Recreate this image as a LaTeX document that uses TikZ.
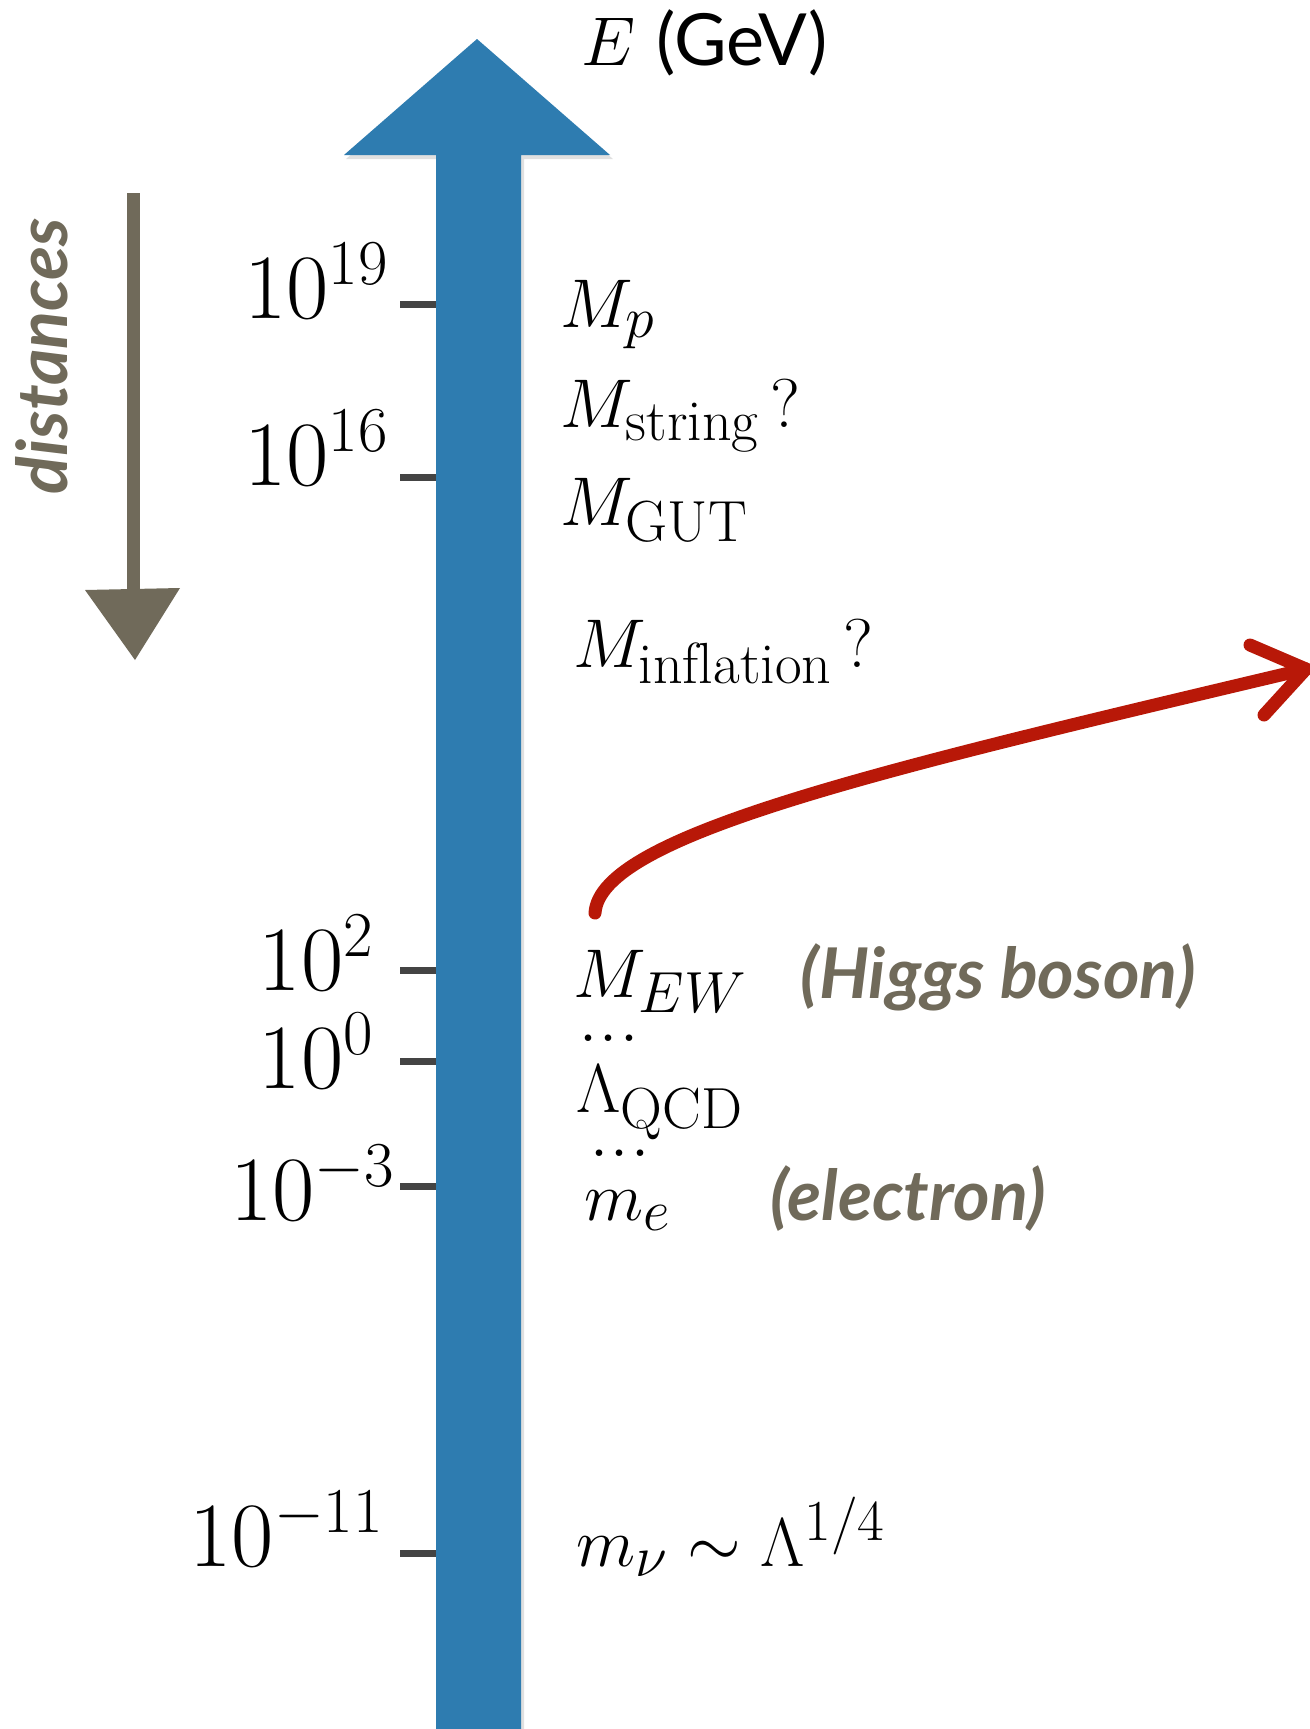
\RequirePackage{fix-cm}
\documentclass[tikz,border=0pt]{standalone}
\usepackage{fontspec}
\newfontfamily\handfont{Lato}
\newfontfamily\unitfont{Lato}
\DeclareMathSizes{34.5}{34.5}{29}{22}
\DeclareMathSizes{46}{46}{32}{24}
\definecolor{shaftblue}{RGB}{46,124,176}
\definecolor{chalkgray}{RGB}{112,106,90}
\definecolor{chalkred}{RGB}{184,24,8}
\definecolor{tickgray}{RGB}{68,68,68}
\begin{document}
\begin{tikzpicture}[x=0.5pt,y=-0.5pt,
  ticklab/.style={anchor=base east,inner sep=0pt,font=\fontsize{46}{52}\selectfont},
  scalelab/.style={anchor=base west,inner sep=0pt,font=\fontsize{34.5}{40}\selectfont},
  dotlab/.style={anchor=base west,inner sep=0pt,font=\fontsize{40}{46}\selectfont},
  handlab/.style={anchor=base west,inner sep=0pt,text=chalkgray,font=\fontsize{35}{40}\selectfont\handfont\bfseries\itshape},
  tickmark/.style={draw=tickgray,line width=3.5pt}]
\useasboundingbox (0,0) rectangle (1310,1729);
\fill[white] (0,0) rectangle (1310,1729);
% shadow of the blue arrow
\fill[black,opacity=0.12] (439,1729) -- (439,159) -- (346,159) -- (479,43) -- (613,159) -- (524,159) -- (524,1729) -- cycle;
% blue energy arrow
\fill[shaftblue] (436,1729) -- (436,155) -- (344,155) -- (477,39) -- (610,155) -- (521,155) -- (521,1729) -- cycle;
\node[anchor=base west,inner sep=0pt] (elabel) at (581,65) {\fontsize{34.5}{40}\selectfont$E$\ {\unitfont\fontsize{36}{42}\selectfont(GeV)}};
% ticks
\foreach \n/\y in {a/304,b/477,c/970,d/1061,e/1186,f/1553}{
  \coordinate (t\n l) at (400,\y);
  \coordinate (t\n r) at (436,\y);
  \draw[tickmark] (t\n l) -- (t\n r);
}
\node[ticklab] (l19) at (389,318) {$10^{19}$};
\node[ticklab] (l16) at (389,485) {$10^{16}$};
\node[ticklab] (l2) at (374,990) {$10^{2}$};
\node[ticklab] (l0) at (374,1088) {$10^{0}$};
\node[ticklab] (lm3) at (395,1220) {$10^{-3}$};
\node[ticklab] (lm11) at (384,1566) {$10^{-11}$};
% scale labels
\node[scalelab] (mp) at (560,327) {$M_p$};
\node[scalelab] (mstr) at (560,427) {$M_{\rm string}\,?$};
\node[scalelab] (mgut) at (560,525) {$M_{\rm GUT}$};
\node[scalelab] (minf) at (573,667) {$M_{\rm inflation}\,?$};
\node[scalelab] (mew) at (573,997) {$M_{EW}$};
\node[dotlab] (dots1) at (578,1041) {.\kern0.3pt.\kern0.3pt.};
\node[scalelab] (lqcd) at (576,1112) {$\Lambda_{\rm QCD}$};
\node[dotlab] (dots2) at (589,1156) {.\kern0.3pt.\kern0.3pt.};
\node[scalelab] (me) at (584,1220) {$m_e$};
\node[scalelab] (mnu) at (576,1566) {$m_\nu\sim\Lambda^{1/4}$};
\node[handlab] (higgs) at (800,998) {(Higgs boson)};
\node[handlab] (elec) at (770,1220) {(electron)};
% distances arrow
\node[rotate=90,inner sep=0pt,text=chalkgray,font=\fontsize{35}{40}\selectfont\handfont\bfseries\itshape] (dist) at (42,356) {distances};
\coordinate (dtop) at (133,193);
\coordinate (dbot) at (133,592);
\draw[chalkgray,line width=6.5pt] (dtop) -- (dbot);
\fill[chalkgray] (85,590) -- (180,588) -- (135,660) -- cycle;
% red arrow
\coordinate (rstart) at (595,913);
\coordinate (rtip) at (1306,669);
\draw[chalkred,line width=6.5pt,line cap=round] (rstart) .. controls (600,835) and (880,770) .. (rtip);
\draw[chalkred,line width=6.5pt,line cap=round,line join=round] (1250,645) -- (rtip) -- (1264,715);
\end{tikzpicture}
\end{document}
